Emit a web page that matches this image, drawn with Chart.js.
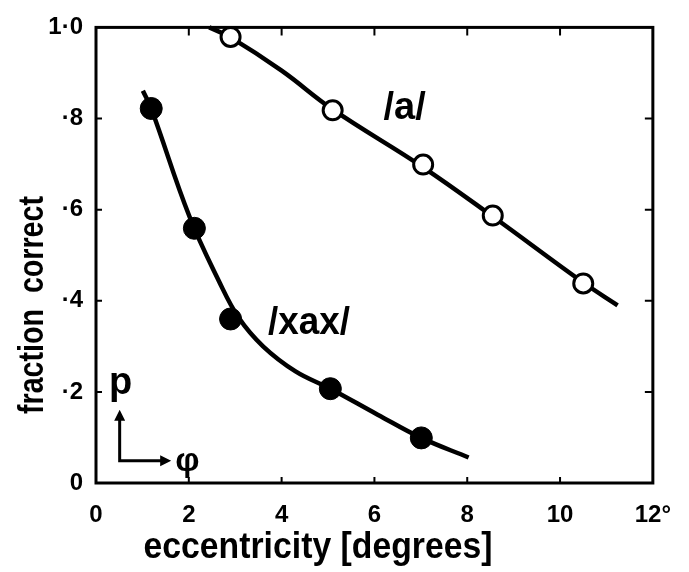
<!DOCTYPE html>
<html>
<head>
<meta charset="utf-8">
<script src="https://cdn.jsdelivr.net/npm/chart.js@4/dist/chart.umd.min.js"></script>
<style>
  html, body { margin: 0; padding: 0; background: #fff; }
  #wrap { width: 689px; height: 572px; }
</style>
</head>
<body>
<div id="wrap"><canvas id="c" width="689" height="572"></canvas></div>
<script>
// ---- data ----
const xTicks = [0, 2, 4, 6, 8, 10, 12];
const xTickLabels = ['0', '2', '4', '6', '8', '10', '12°'];
const yTicks = [0, 0.2, 0.4, 0.6, 0.8, 1.0];
const yTickLabels = ['0', '·2', '·4', '·6', '·8', '1·0'];

// /a/ : open circles
const aX = [2.9, 5.1, 7.05, 8.55, 10.5];
const aY = [0.979, 0.818, 0.699, 0.587, 0.438];
// /a/ fitted curve
const aCurveX = [2.44, 2.9, 4.0, 5.1, 7.05, 8.55, 10.5, 11.24];
const aCurveY = [1.0, 0.978, 0.905, 0.82, 0.693, 0.585, 0.44, 0.39];

// /xax/ : filled circles
const xaxX = [1.19, 2.12, 2.9, 5.05, 7.01];
const xaxY = [0.822, 0.559, 0.36, 0.207, 0.099];
// /xax/ fitted curve
const xaxCurveX = [1.01, 1.19, 2.01, 2.65, 3.08, 3.6, 4.3, 5.05, 6.07, 7.01, 8.03];
const xaxCurveY = [0.861, 0.822, 0.586, 0.443, 0.362, 0.300, 0.245, 0.207, 0.150, 0.099, 0.056];

const xTitle = 'eccentricity [degrees]';
const yTitle = 'fraction  correct';
const labelA = '/a/';
const labelXax = '/xax/';

const FONT = '"Liberation Sans", Arial, sans-serif';
const toPts = (xs, ys) => xs.map((x, i) => ({ x: x, y: ys[i] }));

// draw text centred at (cx, baseline), squeezed horizontally to a target width
function fitText(ctx, text, cx, by, font, targetW) {
  ctx.save();
  ctx.font = font;
  const w = ctx.measureText(text).width;
  const s = Math.min(1, targetW / w);
  ctx.translate(cx, by);
  ctx.scale(s, 1);
  ctx.textAlign = 'center';
  ctx.textBaseline = 'alphabetic';
  ctx.fillText(text, 0, 0);
  ctx.restore();
}

const decor = {
  id: 'decor',
  beforeDatasetsDraw(chart) {
    const { ctx, chartArea: a, scales: { x, y } } = chart;
    ctx.save();
    ctx.strokeStyle = '#000';
    ctx.lineWidth = 3;
    ctx.strokeRect(a.left, a.top, a.right - a.left, a.bottom - a.top);
    ctx.lineWidth = 2;
    ctx.beginPath();
    xTicks.forEach(v => {
      const px = x.getPixelForValue(v);
      if (v > 0 && v < 12) {
        ctx.moveTo(px, a.bottom); ctx.lineTo(px, a.bottom - 6);
        ctx.moveTo(px, a.top); ctx.lineTo(px, a.top + 8);
      }
    });
    yTicks.forEach(v => {
      const py = y.getPixelForValue(v);
      if (v > 0 && v < 1) {
        ctx.moveTo(a.left, py); ctx.lineTo(a.left + 6, py);
        ctx.moveTo(a.right, py); ctx.lineTo(a.right - 8, py);
      }
    });
    ctx.stroke();
    ctx.restore();
  },
  afterDraw(chart) {
    const { ctx, scales: { x, y } } = chart;
    ctx.save();
    ctx.fillStyle = '#000';
    ctx.strokeStyle = '#000';
    // axis titles
    fitText(ctx, xTitle, 318, 558, 'bold 37px ' + FONT, 349);
    ctx.save();
    ctx.translate(43, 305);
    ctx.rotate(-Math.PI / 2);
    fitText(ctx, yTitle, 0, 0, 'bold 35px ' + FONT, 218);
    ctx.restore();
    // series labels
    fitText(ctx, labelA, x.getPixelForValue(6.65), y.getPixelForValue(0.798), 'bold 38px ' + FONT, 45);
    fitText(ctx, labelXax, x.getPixelForValue(4.59), y.getPixelForValue(0.326), 'bold 38px ' + FONT, 82);
    // p / phi arrows
    const ox = x.getPixelForValue(0.51), oy = y.getPixelForValue(0.049);
    const ty = y.getPixelForValue(0.161), tx = x.getPixelForValue(1.62);
    ctx.lineWidth = 3;
    ctx.beginPath();
    ctx.moveTo(ox, ty + 8); ctx.lineTo(ox, oy); ctx.lineTo(tx - 8, oy);
    ctx.stroke();
    ctx.beginPath();
    ctx.moveTo(ox, ty); ctx.lineTo(ox - 5.5, ty + 11); ctx.lineTo(ox + 5.5, ty + 11); ctx.closePath();
    ctx.moveTo(tx, oy); ctx.lineTo(tx - 11, oy - 5.5); ctx.lineTo(tx - 11, oy + 5.5); ctx.closePath();
    ctx.fill();
    ctx.textAlign = 'center';
    ctx.font = 'bold 38px ' + FONT;
    ctx.fillText('p', x.getPixelForValue(0.53), y.getPixelForValue(0.195));
    ctx.font = 'bold 34px ' + FONT;
    ctx.fillText('φ', x.getPixelForValue(1.97), y.getPixelForValue(0.026));
    ctx.restore();
  }
};

new Chart(document.getElementById('c'), {
  type: 'scatter',
  data: {
    datasets: [
      { label: 'a points', data: toPts(aX, aY), pointRadius: 9.5, pointBorderWidth: 3,
        pointBackgroundColor: '#fff', pointBorderColor: '#000', showLine: false, clip: false },
      { label: 'xax points', data: toPts(xaxX, xaxY), pointRadius: 11, pointBorderWidth: 1,
        pointBackgroundColor: '#000', pointBorderColor: '#000', showLine: false, clip: false },
      { label: 'a curve', data: toPts(aCurveX, aCurveY), showLine: true, pointRadius: 0,
        borderColor: '#000', borderWidth: 4.5, tension: 0.4, clip: false },
      { label: 'xax curve', data: toPts(xaxCurveX, xaxCurveY), showLine: true, pointRadius: 0,
        borderColor: '#000', borderWidth: 4.5, tension: 0.4, clip: false }
    ]
  },
  options: {
    responsive: false,
    devicePixelRatio: 1,
    animation: false,
    events: [],
    layout: { padding: { top: 17, right: 31, left: 0, bottom: 0 } },
    plugins: { legend: { display: false }, tooltip: { enabled: false } },
    scales: {
      x: {
        type: 'linear', min: 0, max: 12,
        afterFit: s => { s.height = 89; },
        afterBuildTicks: s => { s.ticks = xTicks.map(v => ({ value: v })); },
        grid: { display: false, drawTicks: false },
        border: { display: false },
        ticks: {
          padding: 18, color: '#000',
          font: { family: FONT, size: 24, weight: 'bold' },
          maxRotation: 0,
          callback: (v) => xTickLabels[xTicks.indexOf(v)]
        }
      },
      y: {
        type: 'linear', min: 0, max: 1,
        afterFit: s => { s.width = 96; },
        afterBuildTicks: s => { s.ticks = yTicks.map(v => ({ value: v })); },
        grid: { display: false, drawTicks: false },
        border: { display: false },
        ticks: {
          padding: 13, color: '#000',
          font: { family: FONT, size: 24, weight: 'bold' },
          callback: (v) => yTickLabels[yTicks.indexOf(v)]
        }
      }
    }
  },
  plugins: [decor]
});
</script>
</body>
</html>
